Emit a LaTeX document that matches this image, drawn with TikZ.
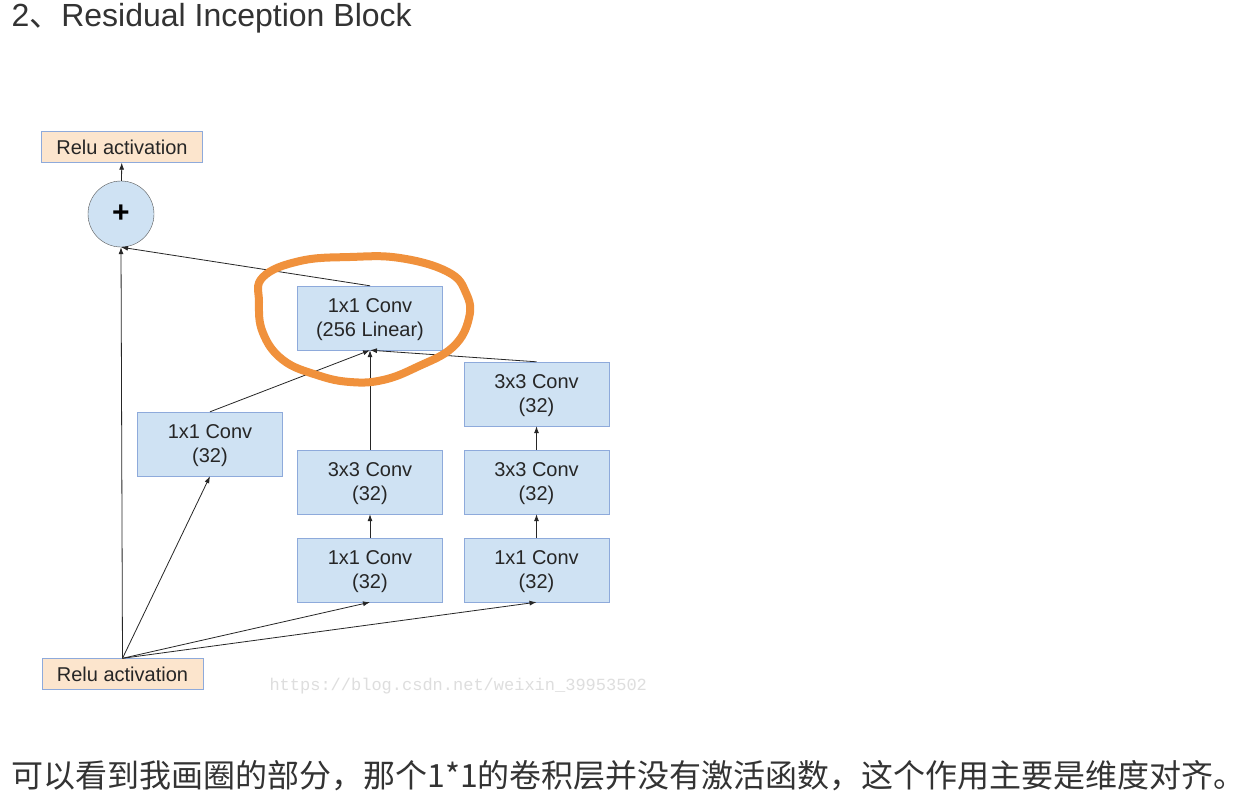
\documentclass[tikz,border=0pt]{standalone}
\usepackage{fontspec}
\setmainfont{Liberation Sans}
\newfontfamily\cjk{Noto Sans CJK SC}
\newfontfamily\wmfont{Liberation Mono}
\usetikzlibrary{arrows.meta,positioning}
\definecolor{convfill}{HTML}{CFE2F3}
\definecolor{convline}{HTML}{8EAADB}
\definecolor{relufill}{HTML}{FCE5CD}
\definecolor{circline}{HTML}{555555}
\definecolor{markorange}{HTML}{F0913C}
\definecolor{textgray}{HTML}{333333}
\definecolor{wmgray}{HTML}{DEDEDE}

\begin{document}
\begin{tikzpicture}[x=1pt, y=-1pt,
  conv/.style={draw=convline, fill=convfill, minimum width=145pt, minimum height=64pt,
    inner sep=0pt, align=center, text depth=0pt, font=\fontsize{20}{24}\selectfont, text=black!85},
  relu/.style={conv, fill=relufill, minimum width=161pt, minimum height=31pt},
  link/.style={-{Latex[length=7pt,width=5pt]}, line width=0.8pt, black!85}]
  \fill[white] (0,0) rectangle (1254,808);
  \useasboundingbox (0,0) rectangle (1254,808);
  \node[anchor=base west, text=textgray, font=\fontsize{32}{36}\selectfont] (title) at (8,27)
    {2{\cjk 、}Residual Inception Block};
  \node[relu] (relutop) at (122,147) {Relu activation};
  \node[circle, draw=circline, fill=convfill, minimum size=66pt, inner sep=0pt,
    font=\fontsize{30}{30}\selectfont\bfseries] (plus) at (121,214) {+};
  \node[conv] (lin) at (370,318) {1x1 Conv\\(256 Linear)};
  \node[conv] (c1) at (210,444) {1x1 Conv\\(32)};
  \node[conv] (m3) at (370,482) {3x3 Conv\\(32)};
  \node[conv] (m1) at (370,570) {1x1 Conv\\(32)};
  \node[conv] (r3b) at (536.5,394) {3x3 Conv\\(32)};
  \node[conv] (r3a) at (536.5,482) {3x3 Conv\\(32)};
  \node[conv] (r1) at (536.5,570) {1x1 Conv\\(32)};
  \node[relu] (relubot) at (122.5,674) {Relu activation};
  \draw[link] (plus) -- (relutop);  \draw[link] (lin.north) -- (plus.south);
  \draw[link] (relubot.north) -- (plus.south);  \draw[link] (relubot.north) -- (c1.south);
  \draw[link] (relubot.north) -- (m1.south);  \draw[link] (relubot.north) -- (r1.south);
  \draw[link] (m1) -- (m3);  \draw[link] (m3) -- (lin);
  \draw[link] (r1) -- (r3a);  \draw[link] (r3a) -- (r3b);
  \draw[link] (c1.north) -- (lin.south);  \draw[link] (r3b.north) -- (lin.south);
  \draw[markorange, line width=8pt, line cap=round] plot[smooth cycle, tension=0.7] coordinates
    {(263,277) (300,261) (350,257) (400,258) (448,272) (466,293) (469,318) (453,347)
     (417,367) (383,380) (350,382) (317,375) (283,360) (263,333) (259,302)};
  \node[anchor=base west, text=wmgray, font=\wmfont\fontsize{17}{18}\selectfont] (mark) at (266,690)
    {https://blog.csdn.net/weixin\_39953502};
  \node[anchor=base west, text=textgray, font=\cjk\fontsize{32}{32}\selectfont] (note) at (8,787)
    {可以看到我画圈的部分，那个1*1的卷积层并没有激活函数，这个作用主要是维度对齐。};
\end{tikzpicture}
\end{document}
